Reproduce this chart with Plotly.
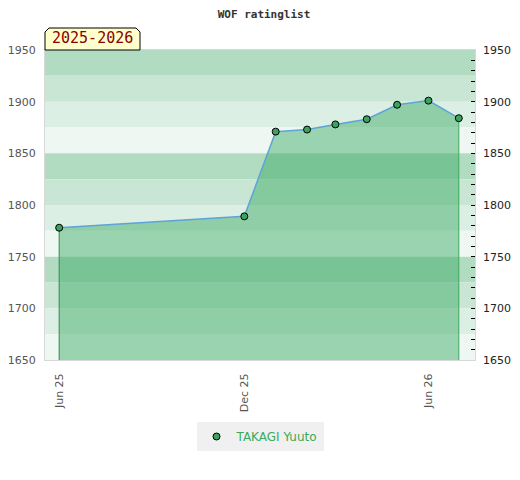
import plotly.graph_objects as go

# rating history
dates = ["2025-06-01", "2025-12-01", "2026-01-01", "2026-02-01", "2026-03-01",
         "2026-04-01", "2026-05-01", "2026-06-01", "2026-07-01"]
ratings = [1778, 1789, 1871, 1873, 1878, 1883, 1897, 1901, 1884]
player = "TAKAGI Yuuto"
season = "2025-2026"

y_min, y_max = 1650, 1950
band_colors = ["#b2dcc2", "#c8e6d3", "#dcefe4", "#eff7f2"]

fig = go.Figure()

# filled area under the rating line
fig.add_trace(go.Scatter(x=dates, y=ratings, mode="lines", fill="tozeroy",
                         fillcolor="rgba(54,168,96,0.46)",
                         line=dict(color="#5ea3d8", width=1.5),
                         showlegend=False, hoverinfo="skip"))
# vertical edges of the area
fig.add_trace(go.Scatter(x=[dates[0], dates[0]], y=[0, ratings[0]], mode="lines",
                         line=dict(color="#2f8a4c", width=1), showlegend=False, hoverinfo="skip"))
fig.add_trace(go.Scatter(x=[dates[-1], dates[-1]], y=[0, ratings[-1]], mode="lines",
                         line=dict(color="#3aaa5a", width=1), showlegend=False, hoverinfo="skip"))
fig.add_trace(go.Scatter(x=dates, y=ratings, mode="markers", name=player,
                         marker=dict(color="#3aa35e", size=7, line=dict(color="black", width=1))))
# invisible trace for the right axis
fig.add_trace(go.Scatter(x=[dates[0]], y=[ratings[0]], yaxis="y2", mode="markers",
                         marker=dict(opacity=0), showlegend=False, hoverinfo="skip"))

# horizontal bands every 25 points
lo = y_max
i = 0
while lo > y_min:
    fig.add_shape(type="rect", xref="paper", yref="y", x0=0, x1=1, y0=lo - 25, y1=lo,
                  fillcolor=band_colors[i % 4], line_width=0, layer="below")
    lo -= 25
    i += 1

# season badge
fig.add_shape(type="path", xref="paper", yref="paper", xsizemode="pixel", ysizemode="pixel",
              xanchor=0, yanchor=1,
              path="M0,0 L0,18 L4,22 L91,22 L95,18 L95,0 Z",
              fillcolor="#ffffcc", line=dict(color="black", width=1))
fig.add_annotation(text=season, xref="paper", yref="paper", x=0, y=1, xanchor="left",
                   yanchor="bottom", xshift=5, yshift=1, showarrow=False,
                   font=dict(family="DejaVu Sans Mono", size=15, color="#8b0000"))

# page body adds 8px, so the figure is 8px smaller and shifted
fig.update_layout(
    width=512, height=472,
    margin=dict(l=37, r=45, t=42, b=120),
    paper_bgcolor="white", plot_bgcolor="white",
    title=dict(text="<b>WOF ratinglist</b>", x=0.5, xanchor="center", y=0.995, yanchor="top",
               font=dict(family="DejaVu Sans Mono", size=11, color="#333")),
    font=dict(family="DejaVu Sans", size=12, color="#555"),
    xaxis=dict(range=["2025-05-18", "2026-07-17"], tickvals=["2025-06-01", "2025-12-01", "2026-06-01"],
               tickformat="%b %y", tickangle=-90, showgrid=False, zeroline=False,
               showline=True, linecolor="#d8d8d8", mirror=True, ticks="", automargin=False,
               ticklabelstandoff=8, tickfont=dict(size=11, color="#555")),
    yaxis=dict(range=[y_min, y_max], dtick=50, showgrid=False, zeroline=False,
               showline=True, linecolor="#d8d8d8", mirror=True, ticks="", automargin=False,
               ticklabelstandoff=6, tickfont=dict(size=11, color="#555")),
    yaxis2=dict(range=[y_min, y_max], overlaying="y", side="right", dtick=50,
                showgrid=False, zeroline=False, ticks="inside", ticklen=4, tickcolor="black",
                minor=dict(dtick=10, ticks="inside", ticklen=4, tickcolor="black"),
                automargin=False, ticklabelstandoff=7, tickfont=dict(size=11, color="#222")),
    legend=dict(orientation="h", x=0.5, xanchor="center", y=-0.2, yanchor="top",
                bgcolor="#f0f0f0", font=dict(size=12, color="#3aaa5a")),
)

fig.write_html("out.html")
